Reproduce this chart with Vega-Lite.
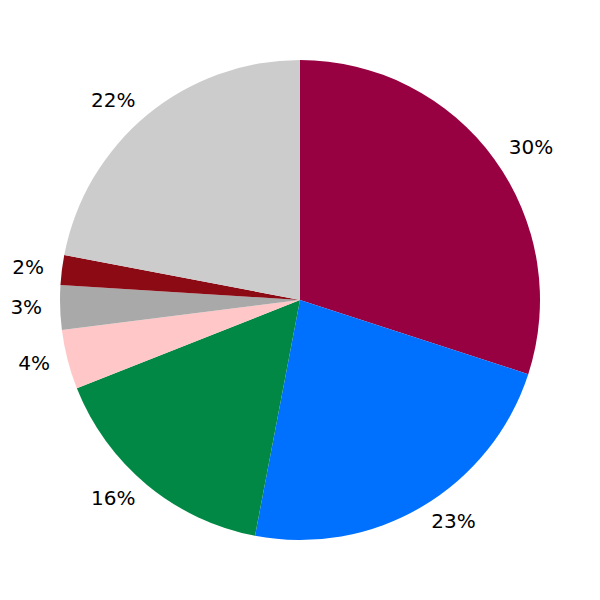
{
  "$schema": "https://vega.github.io/schema/vega-lite/v6.json",
  "width": 600,
  "height": 600,
  "autosize": {"type": "fit", "contains": "padding"},
  "padding": 0,
  "background": "white",
  "config": {"view": {"stroke": null}},
  "data": {
    "values": [
      {"rank": 1, "category": "A", "value": 30, "label": "30%", "side": "right"},
      {"rank": 2, "category": "B", "value": 23, "label": "23%", "side": "right"},
      {"rank": 3, "category": "C", "value": 16, "label": "16%", "side": "left"},
      {"rank": 4, "category": "D", "value": 4, "label": "4%", "side": "left"},
      {"rank": 5, "category": "E", "value": 3, "label": "3%", "side": "left"},
      {"rank": 6, "category": "F", "value": 2, "label": "2%", "side": "left"},
      {"rank": 7, "category": "G", "value": 22, "label": "22%", "side": "left"}
    ]
  },
  "encoding": {
    "theta": {"field": "value", "type": "quantitative", "stack": true},
    "order": {"field": "rank", "type": "quantitative"}
  },
  "layer": [
    {
      "mark": {"type": "arc", "outerRadius": 240, "stroke": null},
      "encoding": {
        "color": {
          "field": "category",
          "type": "nominal",
          "legend": null,
          "scale": {
            "domain": ["A", "B", "C", "D", "E", "F", "G"],
            "range": ["#970041", "#0070FF", "#008844", "#FFC7C7", "#A9A9A9", "#8B0A14", "#CCCCCC"]
          }
        }
      }
    },
    {
      "mark": {"type": "text", "radius": 258, "align": "left", "baseline": "middle", "font": "DejaVu Sans", "fontSize": 20, "color": "black"},
      "encoding": {
        "text": {"field": "label", "type": "nominal"},
        "opacity": {"condition": {"test": "datum.side === 'right'", "value": 1}, "value": 0}
      }
    },
    {
      "mark": {"type": "text", "radius": 258, "align": "right", "baseline": "middle", "font": "DejaVu Sans", "fontSize": 20, "color": "black"},
      "encoding": {
        "text": {"field": "label", "type": "nominal"},
        "opacity": {"condition": {"test": "datum.side === 'left'", "value": 1}, "value": 0}
      }
    }
  ]
}
